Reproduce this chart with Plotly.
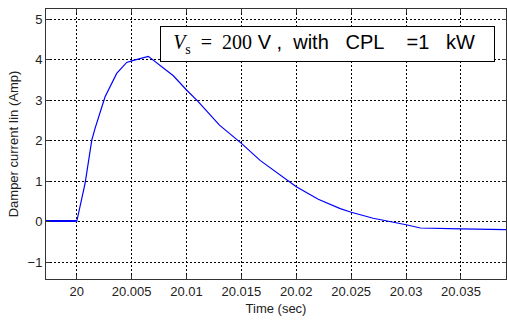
import plotly.graph_objects as go

# time offsets (ms) after t = 20 s and damper current (A)
t_ms = [-4.0, -2.0, -1.0, 0.0, 0.76, 1.37, 1.67, 2.58, 3.64, 4.55, 5.16, 6.52, 8.8, 10.0, 11.0,
        13.0, 15.0, 16.7, 20.0, 22.0, 24.0, 25.0, 27.0, 30.0, 31.3, 35.0, 39.5]
current = [0.0, 0.0, 0.0, 0.0, 0.94, 2.01, 2.30, 3.08, 3.66, 3.93, 3.98, 4.08, 3.60, 3.25, 2.98,
           2.38, 1.93, 1.51, 0.86, 0.55, 0.32, 0.23, 0.08, -0.08, -0.16, -0.18, -0.20]
time = [20 + v / 1000 for v in t_ms]

xticks = [20, 20.005, 20.01, 20.015, 20.02, 20.025, 20.03, 20.035]
xtick_text = ["20", "20.005", "20.01", "20.015", "20.02", "20.025", "20.03", "20.035"]
yticks = [-1, 0, 1, 2, 3, 4, 5]

SANS = "Arial, Liberation Sans, sans-serif"
SERIF = "Liberation Serif, Times New Roman, serif"

fig = go.Figure()
fig.add_trace(go.Scatter(x=time, y=current, mode="lines",
                         line=dict(color="#0000FF", width=1.2, simplify=False), showlegend=False))
# pre-step segment redrawn so it stays visible on top of the y=0 grid line
fig.add_trace(go.Scatter(x=time[:4], y=[c + 0.02 for c in current[:4]], mode="lines",
                         line=dict(color="#0000FF", width=1.2), showlegend=False))

axis_common = dict(
    showgrid=True, gridcolor="#000000", gridwidth=1, griddash="2px,2px",
    zeroline=False, showline=True, linecolor="#333333", linewidth=1, mirror="ticks",
    ticks="inside", ticklen=4, tickcolor="#333333",
    tickfont=dict(family=SANS, size=13, color="#222222"),
)

fig.update_xaxes(range=[19.9972, 20.0391], tickvals=xticks, ticktext=xtick_text,
                 title=dict(text="Time (sec)", standoff=6,
                            font=dict(family=SANS, size=13, color="#222222")),
                 **axis_common)
fig.update_yaxes(range=[-1.42, 5.25], tickvals=yticks,
                 title=dict(text="Damper current Iin (Amp)", standoff=6,
                            font=dict(family=SANS, size=13, color="#222222")),
                 **axis_common)

sp = "\u00a0"
label = (sp * 2
         + f'<span style="font-family:{SERIF};font-size:20px"><i>V</i><sub>s</sub>{sp*2}={sp*2}200</span>'
         + f"{sp}V{sp},{sp*2}with{sp*3}CPL{sp*4}=1{sp*3}kW")

fig.add_annotation(
    xref="paper", yref="paper", x=0.613, y=0.870, xanchor="center", yanchor="middle",
    text=label, showarrow=False, align="left",
    font=dict(family=SANS, size=20, color="#000000"),
    bordercolor="#000000", borderwidth=1, bgcolor="#ffffff",
    width=331, height=32, borderpad=1,
)

fig.update_layout(
    width=507, height=320,
    margin=dict(l=46, r=1, t=9, b=41),
    paper_bgcolor="#ffffff", plot_bgcolor="#ffffff",
)

fig.write_html("out.html")
